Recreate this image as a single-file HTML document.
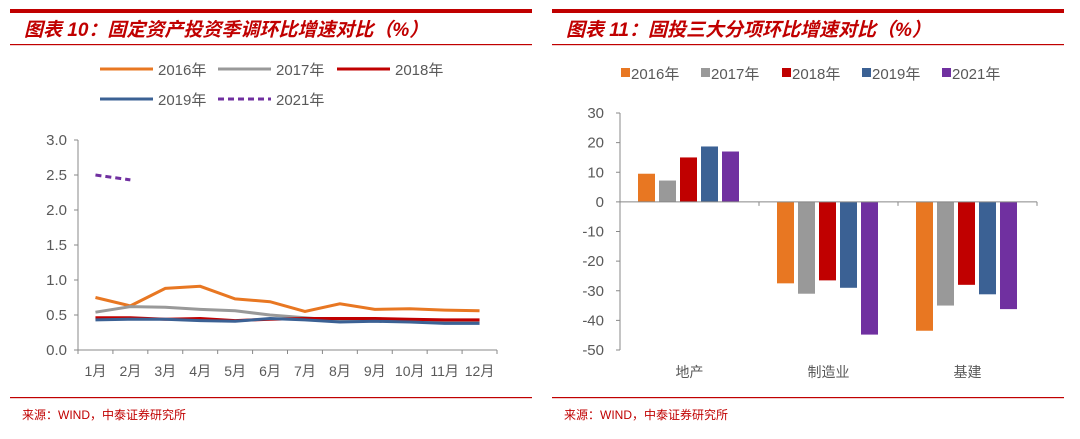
<!DOCTYPE html>
<html><head><meta charset="utf-8"><style>
body{margin:0;background:#fff;width:1080px;height:434px;overflow:hidden;font-family:"Liberation Sans","Noto Sans CJK SC",sans-serif}
svg text{font-family:"Liberation Sans","Noto Sans CJK SC",sans-serif}
</style></head><body>
<svg id="c" width="1080" height="434" xmlns="http://www.w3.org/2000/svg">
<g>
<rect x="10" y="9" width="522" height="4" fill="#c00000"/>
<text x="24" y="36" font-size="19" font-style="italic" font-weight="bold" fill="#c00000">图表 10：固定资产投资季调环比增速对比（%）</text>
<rect x="10" y="44" width="522" height="1.2" fill="#c00000"/>
<rect x="10" y="397" width="522" height="1.2" fill="#c00000"/>
<text x="22" y="419" font-size="12" fill="#c00000">来源：WIND，中泰证券研究所</text>
</g>
<g>
<rect x="552" y="9" width="512" height="4" fill="#c00000"/>
<text x="566" y="36" font-size="19" font-style="italic" font-weight="bold" fill="#c00000">图表 11：固投三大分项环比增速对比（%）</text>
<rect x="552" y="44" width="512" height="1.2" fill="#c00000"/>
<rect x="552" y="397" width="512" height="1.2" fill="#c00000"/>
<text x="564" y="419" font-size="12" fill="#c00000">来源：WIND，中泰证券研究所</text>
</g>
<g id="left"></g>
<g id="right"></g>
</svg>
<script>
const months=["1月","2月","3月","4月","5月","6月","7月","8月","9月","10月","11月","12月"];
const lineNames=["2016年","2017年","2018年","2019年","2021年"];
const s2016=[0.75,0.63,0.88,0.91,0.73,0.69,0.55,0.66,0.58,0.59,0.57,0.56];
const s2017=[0.54,0.62,0.61,0.58,0.56,0.50,0.46,0.42,0.42,0.42,0.41,0.40];
const s2018=[0.46,0.46,0.44,0.45,0.42,0.44,0.45,0.45,0.45,0.44,0.43,0.43];
const s2019=[0.43,0.44,0.44,0.42,0.41,0.45,0.43,0.40,0.41,0.40,0.38,0.38];
const s2021=[2.50,2.43];
const leftTicks=[0,0.5,1,1.5,2,2.5,3];
const barCats=["地产","制造业","基建"];
const b2016=[9.5,-27.5,-43.5];
const b2017=[7.2,-31,-35];
const b2018=[15,-26.5,-28];
const b2019=[18.7,-29,-31.2];
const b2021=[17,-44.8,-36.2];
const rightTicks=[30,20,10,0,-10,-20,-30,-40,-50];
const colors=["#e87722","#999999","#c00000","#3b6194","#7030a0"];
const NS="http://www.w3.org/2000/svg";
function mk(p,t,a,txt){const e=document.createElementNS(NS,t);for(const k in a)e.setAttribute(k,a[k]);if(txt!=null)e.textContent=txt;p.appendChild(e);return e;}
// left chart
const L=document.getElementById('left');
const lx0=78,lx1=497,ly0=350,ly1=140;
const ly=v=>ly0-(v-0)/(3-0)*(ly0-ly1);
const bw=(lx1-lx0)/months.length;
const lx=i=>lx0+bw*(i+0.5);
let ax=mk(L,'line',{x1:lx0,y1:ly1,x2:lx0,y2:ly0,stroke:'#888','stroke-width':1});

ax=mk(L,'line',{x1:lx0,y1:ly0,x2:lx1,y2:ly0,stroke:'#888','stroke-width':1});

leftTicks.forEach(v=>{mk(L,'line',{x1:lx0-4,y1:ly(v),x2:lx0,y2:ly(v),stroke:'#888'});
const t=mk(L,'text',{x:lx0-11,y:ly(v)+5,'text-anchor':'end','font-size':15,fill:'#595959'},v.toFixed(1));
});
for(let i=0;i<=months.length;i++)mk(L,'line',{x1:lx0+bw*i,y1:ly0,x2:lx0+bw*i,y2:ly0+4,stroke:'#888'});
months.forEach((m,i)=>{const t=mk(L,'text',{x:lx(i),y:376,'text-anchor':'middle','font-size':14,fill:'#595959'},m);
});
[s2016,s2017,s2018,s2019,s2021].forEach((s,k)=>{
const p=mk(L,'polyline',{points:s.map((v,i)=>lx(i)+','+ly(v)).join(' '),fill:'none',stroke:colors[k],'stroke-width':3,'stroke-dasharray':k==4?'6,4':'none'});
});
const legPos=[[100,74],[218,74],[337,74],[100,104],[218,104]];
lineNames.forEach((n,k)=>{const g=mk(L,'g',{});

mk(g,'line',{x1:legPos[k][0],y1:legPos[k][1]-5,x2:legPos[k][0]+53,y2:legPos[k][1]-5,stroke:colors[k],'stroke-width':3,'stroke-dasharray':k==4?'6,4':'none'});
mk(g,'text',{x:legPos[k][0]+58,y:legPos[k][1]+1,'font-size':15,fill:'#595959'},n);});
// right chart
const R=document.getElementById('right');
const rx0=620,rx1=1037,ry30=113,ryN50=350;
const ry=v=>ry30+(30-v)/80*(ryN50-ry30);
const cw=(rx1-rx0)/barCats.length;
ax=mk(R,'line',{x1:rx0,y1:ry30,x2:rx0,y2:ryN50,stroke:'#888'});

rightTicks.forEach(v=>{mk(R,'line',{x1:rx0-4,y1:ry(v),x2:rx0,y2:ry(v),stroke:'#888'});
const t=mk(R,'text',{x:rx0-16,y:ry(v)+5,'text-anchor':'end','font-size':15,fill:'#595959'},String(v));
});
[b2016,b2017,b2018,b2019,b2021].forEach((s,k)=>{s.forEach((v,i)=>{
const x=rx0+cw*i+18+k*21;const y0=ry(0),y1=ry(v);
const r=mk(R,'rect',{x:x,y:Math.min(y0,y1),width:17,height:Math.abs(y1-y0),fill:colors[k]});
});});
ax=mk(R,'line',{x1:rx0,y1:ry(0),x2:rx1,y2:ry(0),stroke:'#888'});

for(let i=0;i<=barCats.length;i++)mk(R,'line',{x1:rx0+cw*i,y1:ry(0),x2:rx0+cw*i,y2:ry(0)+4,stroke:'#888'});
barCats.forEach((c,i)=>{const t=mk(R,'text',{x:rx0+cw*(i+0.5),y:377,'text-anchor':'middle','font-size':14,fill:'#595959'},c);
});
const rlx=[621,701,782,862,942];
lineNames.forEach((n,k)=>{const g=mk(R,'g',{});

mk(g,'rect',{x:rlx[k],y:68,width:9,height:9,fill:colors[k]});
mk(g,'text',{x:rlx[k]+10,y:79,'font-size':15,fill:'#595959'},n);});
</script>
</body></html>
